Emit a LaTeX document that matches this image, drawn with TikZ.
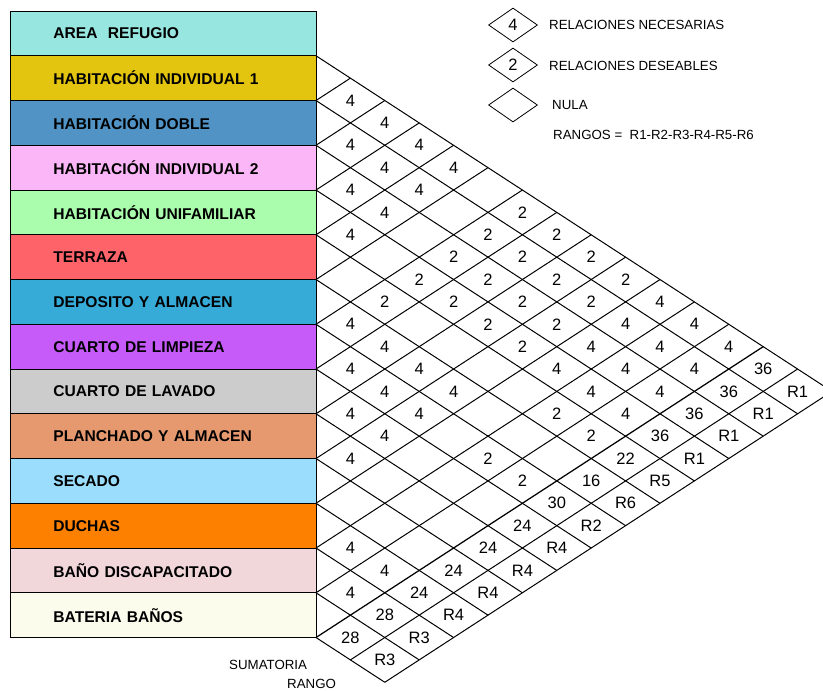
\documentclass[tikz,border=0pt]{standalone}
\usepackage{fontspec}
\setmainfont{Liberation Sans}
\usepackage{tikz}
\usetikzlibrary{shapes.geometric}

\definecolor{cArea}{HTML}{98E6E0}
\definecolor{cHind1}{HTML}{E3C40E}
\definecolor{cHdoble}{HTML}{5093C4}
\definecolor{cHind2}{HTML}{FBB6F7}
\definecolor{cHunif}{HTML}{AAFDAC}
\definecolor{cTerr}{HTML}{FD6369}
\definecolor{cDep}{HTML}{36ABD8}
\definecolor{cLimp}{HTML}{C65BFA}
\definecolor{cLav}{HTML}{CCCCCC}
\definecolor{cPlanch}{HTML}{E6996F}
\definecolor{cSec}{HTML}{9ADDFD}
\definecolor{cDuch}{HTML}{FD8000}
\definecolor{cBdisc}{HTML}{F2D7DA}
\definecolor{cBat}{HTML}{FCFCEC}

\begin{document}
\begin{tikzpicture}[
    x=1pt, y=-1pt,
    room/.style  = {draw, line width=0.8pt, anchor=west, minimum height=44.75pt, text width=220pt, inner xsep=43pt, align=left, font=\fontsize{15.6pt}{17pt}\selectfont\bfseries},
    val/.style   = {inner sep=0pt, font=\fontsize{16.5pt}{18pt}\selectfont},
    legd/.style  = {draw, diamond, minimum width=49pt, minimum height=34pt, inner sep=0pt, line width=0.8pt, font=\fontsize{16.5pt}{18pt}\selectfont},
    legt/.style  = {anchor=west, inner sep=0pt, font=\fontsize{13.3pt}{15pt}\selectfont},
    gline/.style = {line width=1pt}
]
\useasboundingbox (0,0) rectangle (823,691);

% ---- Rooms (left column) ----
\node[room, fill=cArea]   (area)   at (10,33.4)  {AREA\ \ REFUGIO};
\node[room, fill=cHind1]  (hind1)  at (10,78.15) {HABITACIÓN INDIVIDUAL 1};
\node[room, fill=cHdoble] (hdoble) at (10,122.9) {HABITACIÓN DOBLE};
\node[room, fill=cHind2]  (hind2)  at (10,167.65){HABITACIÓN INDIVIDUAL 2};
\node[room, fill=cHunif]  (hunif)  at (10,212.4) {HABITACIÓN UNIFAMILIAR};
\node[room, fill=cTerr]   (terr)   at (10,257.15){TERRAZA};
\node[room, fill=cDep]    (dep)    at (10,301.9) {DEPOSITO Y ALMACEN};
\node[room, fill=cLimp]   (limp)   at (10,346.65){CUARTO DE LIMPIEZA};
\node[room, fill=cLav]    (lav)    at (10,391.4) {CUARTO DE LAVADO};
\node[room, fill=cPlanch] (planch) at (10,436.15){PLANCHADO Y ALMACEN};
\node[room, fill=cSec]    (sec)    at (10,480.9) {SECADO};
\node[room, fill=cDuch]   (duch)   at (10,525.65){DUCHAS};
\node[room, fill=cBdisc]  (bdisc)  at (10,570.4) {BAÑO DISCAPACITADO};
\node[room, fill=cBat]    (bat)    at (10,615.15){BATERIA BAÑOS};

\node[legt] (suma)  at (229,665) {SUMATORIA};
\node[legt] (rango) at (287,684) {RANGO};

% ---- Legend ----
\node[legd] (lg4) at (513,25)  {4};
\node[legd] (lg2) at (513,65)  {2};
\node[legd] (lg0) at (513,105) {};
\node[legt] (lt4) at (549,25)  {RELACIONES NECESARIAS};
\node[legt] (lt2) at (549,66)  {RELACIONES DESEABLES};
\node[legt] (lt0) at (552,105) {NULA};
\node[legt] (ltr) at (553,135) {RANGOS =\ \ R1-R2-R3-R4-R5-R6};

% ---- Matrix (a = upper row, b = lower row) ----
\begin{scope}[x={(-34.4pt,-22.375pt)}, y={(34.4pt,-22.375pt)}, shift={(316pt,-33.4pt)}]

% down-right lines
\draw[gline] (0.5,0.5)   -- (0.5,15.5);
\draw[gline] (1.5,1.5)   -- (1.5,15.5);
\draw[gline] (2.5,2.5)   -- (2.5,15.5);
\draw[gline] (3.5,3.5)   -- (3.5,15.5);
\draw[gline] (4.5,4.5)   -- (4.5,15.5);
\draw[gline] (5.5,5.5)   -- (5.5,15.5);
\draw[gline] (6.5,6.5)   -- (6.5,15.5);
\draw[gline] (7.5,7.5)   -- (7.5,15.5);
\draw[gline] (8.5,8.5)   -- (8.5,15.5);
\draw[gline] (9.5,9.5)   -- (9.5,15.5);
\draw[gline] (10.5,10.5) -- (10.5,15.5);
\draw[gline] (11.5,11.5) -- (11.5,15.5);
\draw[gline] (12.5,12.5) -- (12.5,15.5);
\draw[gline] (13.5,13.5) -- (13.5,15.5);

% up-right lines
\draw[gline] (1.5,1.5)   -- (0.5,1.5);
\draw[gline] (2.5,2.5)   -- (0.5,2.5);
\draw[gline] (3.5,3.5)   -- (0.5,3.5);
\draw[gline] (4.5,4.5)   -- (0.5,4.5);
\draw[gline] (5.5,5.5)   -- (0.5,5.5);
\draw[gline] (6.5,6.5)   -- (0.5,6.5);
\draw[gline] (7.5,7.5)   -- (0.5,7.5);
\draw[gline] (8.5,8.5)   -- (0.5,8.5);
\draw[gline] (9.5,9.5)   -- (0.5,9.5);
\draw[gline] (10.5,10.5) -- (0.5,10.5);
\draw[gline] (11.5,11.5) -- (0.5,11.5);
\draw[gline] (12.5,12.5) -- (0.5,12.5);
\draw[gline, line width=1.25pt] (13.5,13.5) -- (0.5,13.5);
\draw[gline] (13.5,14.5) -- (0.5,14.5);
\draw[gline] (13.5,15.5) -- (0.5,15.5);

% relations
\node[val] (v1-2)   at (1,2)   {4};
\node[val] (v1-3)   at (1,3)   {4};
\node[val] (v1-4)   at (1,4)   {4};
\node[val] (v1-5)   at (1,5)   {4};
\node[val] (v1-7)   at (1,7)   {2};
\node[val] (v1-8)   at (1,8)   {2};
\node[val] (v1-9)   at (1,9)   {2};
\node[val] (v1-10)  at (1,10)  {2};
\node[val] (v1-11)  at (1,11)  {4};
\node[val] (v1-12)  at (1,12)  {4};
\node[val] (v1-13)  at (1,13)  {4};

\node[val] (v2-3)   at (2,3)   {4};
\node[val] (v2-4)   at (2,4)   {4};
\node[val] (v2-5)   at (2,5)   {4};
\node[val] (v2-7)   at (2,7)   {2};
\node[val] (v2-8)   at (2,8)   {2};
\node[val] (v2-9)   at (2,9)   {2};
\node[val] (v2-10)  at (2,10)  {2};
\node[val] (v2-11)  at (2,11)  {4};
\node[val] (v2-12)  at (2,12)  {4};
\node[val] (v2-13)  at (2,13)  {4};

\node[val] (v3-4)   at (3,4)   {4};
\node[val] (v3-5)   at (3,5)   {4};
\node[val] (v3-7)   at (3,7)   {2};
\node[val] (v3-8)   at (3,8)   {2};
\node[val] (v3-9)   at (3,9)   {2};
\node[val] (v3-10)  at (3,10)  {2};
\node[val] (v3-11)  at (3,11)  {4};
\node[val] (v3-12)  at (3,12)  {4};
\node[val] (v3-13)  at (3,13)  {4};

\node[val] (v4-5)   at (4,5)   {4};
\node[val] (v4-7)   at (4,7)   {2};
\node[val] (v4-8)   at (4,8)   {2};
\node[val] (v4-9)   at (4,9)   {2};
\node[val] (v4-10)  at (4,10)  {2};
\node[val] (v4-11)  at (4,11)  {4};
\node[val] (v4-12)  at (4,12)  {4};
\node[val] (v4-13)  at (4,13)  {4};

\node[val] (v5-7)   at (5,7)   {2};
\node[val] (v5-12)  at (5,12)  {2};
\node[val] (v5-13)  at (5,13)  {2};

\node[val] (v6-7)   at (6,7)   {4};
\node[val] (v6-8)   at (6,8)   {4};
\node[val] (v6-9)   at (6,9)   {4};
\node[val] (v6-10)  at (6,10)  {4};

\node[val] (v7-8)   at (7,8)   {4};
\node[val] (v7-9)   at (7,9)   {4};
\node[val] (v7-10)  at (7,10)  {4};
\node[val] (v7-12)  at (7,12)  {2};
\node[val] (v7-13)  at (7,13)  {2};

\node[val] (v8-9)   at (8,9)   {4};
\node[val] (v8-10)  at (8,10)  {4};
\node[val] (v9-10)  at (9,10)  {4};
\node[val] (v11-12) at (11,12) {4};
\node[val] (v11-13) at (11,13) {4};
\node[val] (v12-13) at (12,13) {4};

% sumatoria
\node[val] (s1)  at (1,14)  {36};
\node[val] (s2)  at (2,14)  {36};
\node[val] (s3)  at (3,14)  {36};
\node[val] (s4)  at (4,14)  {36};
\node[val] (s5)  at (5,14)  {22};
\node[val] (s6)  at (6,14)  {16};
\node[val] (s7)  at (7,14)  {30};
\node[val] (s8)  at (8,14)  {24};
\node[val] (s9)  at (9,14)  {24};
\node[val] (s10) at (10,14) {24};
\node[val] (s11) at (11,14) {24};
\node[val] (s12) at (12,14) {28};
\node[val] (s13) at (13,14) {28};

% rango
\node[val] (rg1)  at (1,15)  {R1};
\node[val] (rg2)  at (2,15)  {R1};
\node[val] (rg3)  at (3,15)  {R1};
\node[val] (rg4)  at (4,15)  {R1};
\node[val] (rg5)  at (5,15)  {R5};
\node[val] (rg6)  at (6,15)  {R6};
\node[val] (rg7)  at (7,15)  {R2};
\node[val] (rg8)  at (8,15)  {R4};
\node[val] (rg9)  at (9,15)  {R4};
\node[val] (rg10) at (10,15) {R4};
\node[val] (rg11) at (11,15) {R4};
\node[val] (rg12) at (12,15) {R3};
\node[val] (rg13) at (13,15) {R3};

\end{scope}

\end{tikzpicture}
\end{document}
